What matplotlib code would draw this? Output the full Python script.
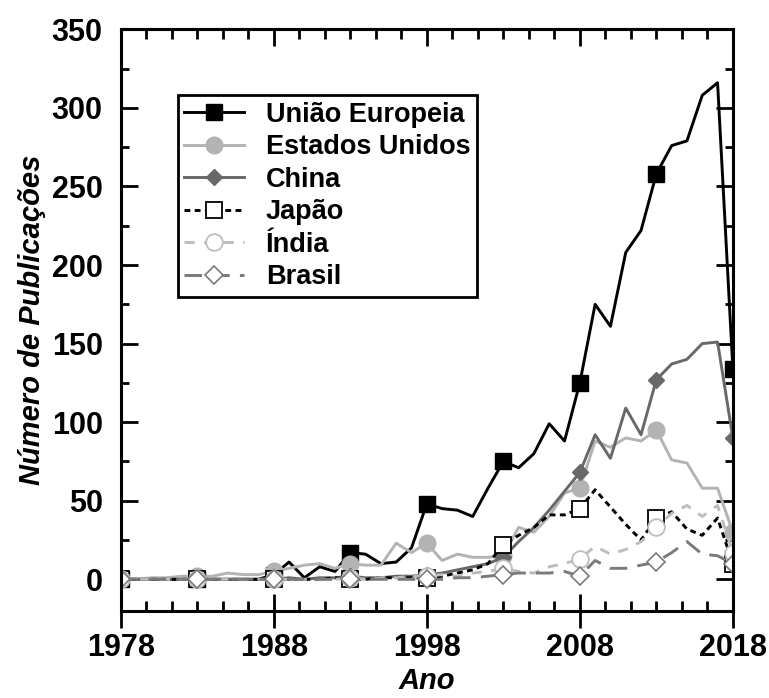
import numpy as np
import matplotlib.pyplot as plt
from matplotlib.ticker import MultipleLocator

plt.rcParams['font.family'] = ['Liberation Sans', 'DejaVu Sans']
plt.rcParams['font.weight'] = 'bold'

anos = np.arange(1978, 2019)

# publicações por ano (1978-2018)
uniao_europeia = [0, 0, 0, 0, 0, 0, 0, 0, 0, 0,
                  3, 11, 1, 8, 5, 17, 16, 10, 11, 20,
                  48, 45, 44, 40, 58, 75, 71, 80, 99, 88,
                  125, 175, 161, 208, 222, 258, 276, 279, 308, 316,
                  134]
estados_unidos = [0, 0, 1, 1, 2, 2, 2, 4, 3, 3,
                  5, 7, 9, 10, 7, 10, 9, 9, 23, 17,
                  23, 12, 16, 14, 14, 15, 33, 30, 40, 55,
                  58, 88, 84, 90, 88, 95, 76, 74, 58, 58,
                  30]
china = [0, 0, 0, 0, 0, 0, 0, 0, 0, 0,
         0, 1, 0, 1, 1, 2, 1, 1, 2, 2,
         3, 4, 6, 8, 10, 14, 24, 33, 44, 56,
         68, 92, 77, 109, 92, 127, 137, 140, 150, 151,
         90]
japao = [0, 0, 0, 0, 0, 0, 0, 0, 0, 0,
         0, 0, 0, 0, 1, 0, 0, 1, 1, 1,
         1, 2, 4, 6, 10, 22, 28, 33, 41, 41,
         45, 57, 46, 35, 25, 39, 43, 32, 28, 39,
         10]
india = [0, 0, 0, 0, 0, 0, 0, 0, 0, 0,
         0, 0, 0, 0, 0, 1, 0, 1, 1, 2,
         2, 3, 2, 4, 5, 7, 5, 4, 8, 10,
         13, 21, 16, 19, 24, 33, 42, 47, 40, 47,
         17]
brasil = [0, 0, 0, 0, 0, 0, 0, 0, 0, 0,
          0, 0, 0, 0, 0, 0, 0, 0, 0, 0,
          0, 0, 1, 1, 2, 3, 4, 4, 4, 5,
          2, 12, 7, 7, 9, 11, 17, 24, 16, 15,
          10]

xticks = [1978, 1988, 1998, 2008, 2018]

fig = plt.figure(figsize=(7.69, 6.98), dpi=100)
ax = fig.add_axes([0.157, 0.125, 0.796, 0.833])

lw = 2.1
ax.plot(anos, uniao_europeia, '-', color='black', lw=lw, marker='s', ms=11,
        markevery=5, mfc='black', mec='black', label='União Europeia')
ax.plot(anos, estados_unidos, '-', color='#b3b3b3', lw=lw, marker='o', ms=12,
        markevery=5, mfc='#b3b3b3', mec='#b3b3b3', label='Estados Unidos')
ax.plot(anos, china, '-', color='#686868', lw=lw, marker='D', ms=8,
        markevery=5, mfc='#686868', mec='#686868', label='China')
ax.plot(anos, japao, color='black', lw=lw, ls=(0, (2.0, 1.5)), marker='s', ms=11,
        markevery=5, mfc='white', mec='black', mew=1.3, label='Japão')
ax.plot(anos, india, color='#bdbdbd', lw=lw, ls=(0, (3.5, 3.2)), marker='o', ms=12,
        markevery=5, mfc='white', mec='#bdbdbd', mew=1.3, label='Índia')
ax.plot(anos, brasil, color='#7a7a7a', lw=lw, ls=(0, (6, 3.5)), marker='D', ms=9,
        markevery=5, mfc='white', mec='#7a7a7a', mew=1.2, label='Brasil')

ax.set_xlim(1978, 2018)
ax.set_ylim(-20, 350)
ax.set_xticks(xticks)
ax.set_xticks(np.arange(1978, 2018.01, 10 / 6), minor=True)
ax.yaxis.set_major_locator(MultipleLocator(50))
ax.yaxis.set_minor_locator(MultipleLocator(25))

for s in ax.spines.values():
    s.set_linewidth(2.2)

# eixo de baixo: marcas maiores cruzando a borda
ax.tick_params(which='both', direction='in', right=True, top=False, width=2,
               labelsize=22)
ax.tick_params(axis='y', which='major', length=12, pad=13)
ax.tick_params(axis='y', which='minor', length=6)
ax.tick_params(axis='x', which='major', direction='inout', length=24, pad=4)
ax.tick_params(axis='x', which='minor', length=7)

top = ax.secondary_xaxis('top')
top.set_xticks(xticks)
top.set_xticks(np.arange(1978, 2018.01, 10 / 6), minor=True)
top.tick_params(which='both', direction='in', width=2, labeltop=False)
top.tick_params(which='major', length=12)
top.tick_params(which='minor', length=7)
top.spines['top'].set_linewidth(2.2)

ax.set_xlabel('Ano', fontsize=21, fontstyle='italic', fontweight='bold', labelpad=3)
ax.set_ylabel('Número de Publicações', fontsize=21, fontstyle='italic',
              fontweight='bold', labelpad=4)

leg = ax.legend(loc='upper left', bbox_to_anchor=(0.093, 0.887), borderaxespad=0,
                fontsize=19.5, handlelength=2.2, handletextpad=0.8,
                labelspacing=0.24, borderpad=0.25, fancybox=False,
                edgecolor='black', framealpha=1)
leg.get_frame().set_linewidth(2)

fig.savefig('out.png', dpi=100)
